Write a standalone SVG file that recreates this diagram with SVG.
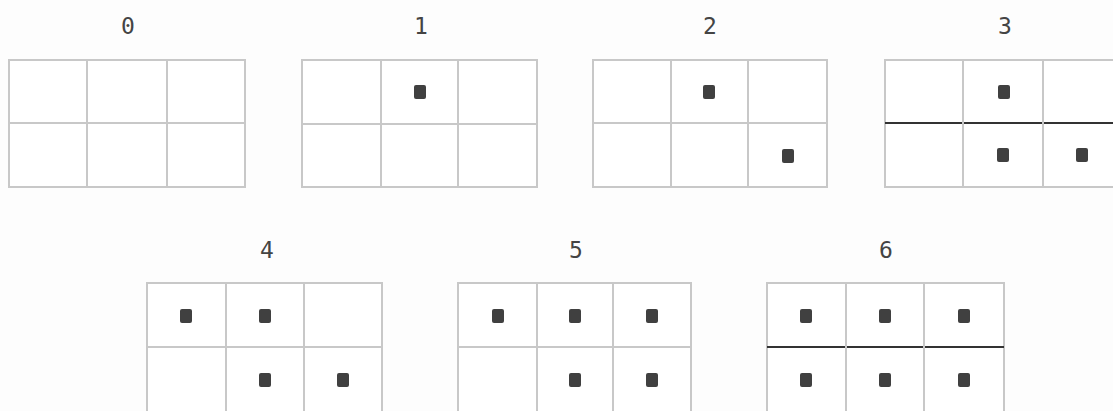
<svg xmlns="http://www.w3.org/2000/svg" width="1113" height="411" viewBox="0 0 1113 411">
<style>
.bg{fill:#fdfdfd}
.cell{fill:#ffffff;stroke:#c8c8c8;stroke-width:2}
.grid{stroke:#c8c8c8;stroke-width:2;fill:none}
.dark{stroke:#333333;stroke-width:2}
.dot{fill:#404040}
.lbl{font-family:"DejaVu Sans Mono","Liberation Mono",monospace;font-size:23px;fill:#444444;text-anchor:middle}
</style>
<defs>
<rect id="sq" x="-6" y="-7" width="12" height="14" rx="2"/>
</defs>
<rect class="bg" x="0" y="0" width="1113" height="411"/>

<g id="grid0">
<text class="lbl" x="128" y="34">0</text>
<rect class="cell" x="9" y="60" width="236" height="127"/>
<path class="grid" d="M9 123H245M87 60V187M167 60V187"/>
</g>

<g id="grid1">
<text class="lbl" x="421" y="34">1</text>
<rect class="cell" x="302" y="60" width="235" height="127"/>
<path class="grid" d="M302 124H537M381 60V187M458 60V187"/>
<use href="#sq" class="dot" x="420" y="92"/>
</g>

<g id="grid2">
<text class="lbl" x="710" y="34">2</text>
<rect class="cell" x="593" y="60" width="234" height="127"/>
<path class="grid" d="M593 123H827M671 60V187M748 60V187"/>
<use href="#sq" class="dot" x="709" y="92"/>
<use href="#sq" class="dot" x="788" y="156"/>
</g>

<g id="grid3">
<text class="lbl" x="1005" y="34">3</text>
<rect class="cell" x="885" y="60" width="238" height="127"/>
<path class="dark" d="M885 123H1123"/>
<path class="grid" d="M963 60V187M1043 60V187"/>
<use href="#sq" class="dot" x="1004" y="92"/>
<use href="#sq" class="dot" x="1003" y="155"/>
<use href="#sq" class="dot" x="1082" y="155"/>
</g>

<g id="grid4">
<text class="lbl" x="267" y="258">4</text>
<rect class="cell" x="147" y="283" width="235" height="130"/>
<path class="grid" d="M147 347H382M226 283V413M304 283V413"/>
<use href="#sq" class="dot" x="186" y="316"/>
<use href="#sq" class="dot" x="265" y="316"/>
<use href="#sq" class="dot" x="265" y="380"/>
<use href="#sq" class="dot" x="343" y="380"/>
</g>

<g id="grid5">
<text class="lbl" x="576" y="258">5</text>
<rect class="cell" x="458" y="283" width="233" height="130"/>
<path class="grid" d="M458 347H691M537 283V413M613 283V413"/>
<use href="#sq" class="dot" x="498" y="316"/>
<use href="#sq" class="dot" x="575" y="316"/>
<use href="#sq" class="dot" x="652" y="316"/>
<use href="#sq" class="dot" x="575" y="380"/>
<use href="#sq" class="dot" x="652" y="380"/>
</g>

<g id="grid6">
<text class="lbl" x="886" y="258">6</text>
<rect class="cell" x="767" y="283" width="237" height="130"/>
<path class="dark" d="M767 347H1004"/>
<path class="grid" d="M846 283V413M924 283V413"/>
<use href="#sq" class="dot" x="806" y="316"/>
<use href="#sq" class="dot" x="885" y="316"/>
<use href="#sq" class="dot" x="964" y="316"/>
<use href="#sq" class="dot" x="806" y="380"/>
<use href="#sq" class="dot" x="885" y="380"/>
<use href="#sq" class="dot" x="964" y="380"/>
</g>

<g id="connectors"/>
</svg>
